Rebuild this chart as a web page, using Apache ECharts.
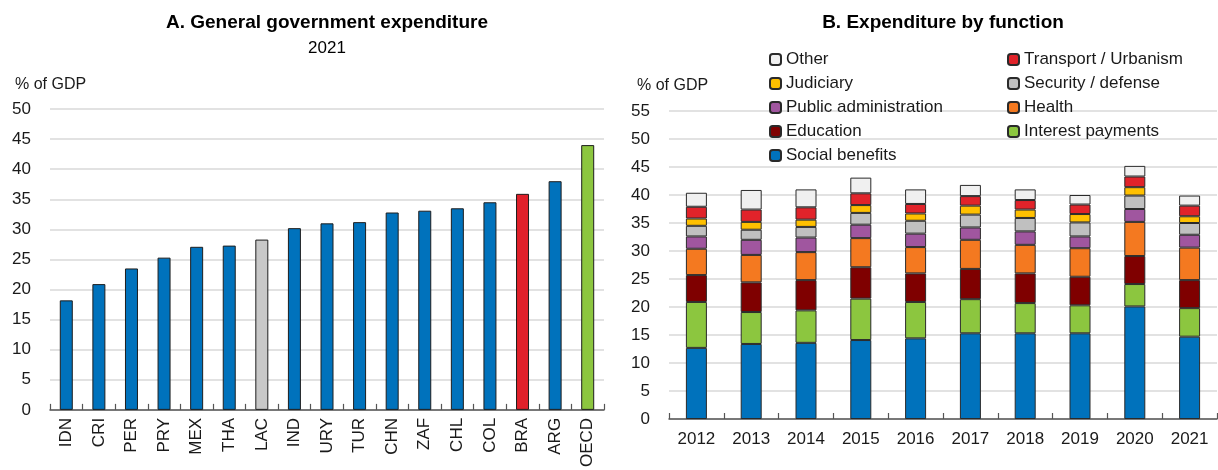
<!DOCTYPE html>
<html><head><meta charset="utf-8">
<script src="https://cdn.jsdelivr.net/npm/echarts@6/dist/echarts.min.js"></script>
<style>html,body{margin:0;padding:0;background:#fff}#c{width:1218px;height:470px}</style>
</head><body><div id="c"></div>
<script>
// Panel A data
const countries = ['IDN','CRI','PER','PRY','MEX','THA','LAC','IND','URY','TUR','CHN','ZAF','CHL','COL','BRA','ARG','OECD'];
const expenditure = [18.2,20.9,23.5,25.3,27.1,27.3,28.3,30.2,31.0,31.2,32.8,33.1,33.5,34.5,35.9,38.0,44.0];
// Panel B data
const years = ['2012','2013','2014','2015','2016','2017','2018','2019','2020','2021'];
const socialBenefits   = [12.7,13.4,13.6,14.1,14.4,15.3,15.3,15.3,20.1,14.7];
const interestPayments = [8.2,5.7,5.8,7.4,6.5,6.1,5.4,5.0,4.0,5.1];
const education        = [4.8,5.3,5.4,5.6,5.1,5.4,5.3,5.1,5.0,5.0];
const health           = [4.7,4.9,5.0,5.2,4.7,5.2,5.1,5.1,6.1,5.8];
const publicAdmin      = [2.2,2.7,2.6,2.4,2.4,2.2,2.4,2.1,2.3,2.3];
const securityDefense  = [1.9,1.8,1.9,2.1,2.3,2.3,2.4,2.5,2.4,2.1];
const judiciary        = [1.3,1.4,1.3,1.4,1.3,1.6,1.5,1.5,1.5,1.2];
const transport        = [2.1,2.2,2.2,2.1,1.7,1.7,1.7,1.7,1.9,1.9];
const other            = [2.5,3.5,3.2,2.8,2.6,2.0,1.9,1.7,1.9,1.8];
// axis ranges
const axisA = {min:0, max:50, interval:5};
const axisB = {min:0, max:55, interval:5};

const FONT = "'Liberation Sans', Arial, sans-serif";
const TXT = '#1a1a1a';
const highlight = {LAC:'#c8c8c8', BRA:'#e0202a', OECD:'#8cc63f'};
const BLUE = '#0072bc';

const stackDefs = [
  ['Social benefits', socialBenefits, '#0072bc'],
  ['Interest payments', interestPayments, '#8cc63f'],
  ['Education', education, '#7f0000'],
  ['Health', health, '#f47920'],
  ['Public administration', publicAdmin, '#a0569f'],
  ['Security / defense', securityDefense, '#c0c0c0'],
  ['Judiciary', judiciary, '#ffc000'],
  ['Transport / Urbanism', transport, '#e1232a'],
  ['Other', other, '#f0f0f0']
];

const chart = echarts.init(document.getElementById('c'), null, {renderer:'canvas'});

const gridLine = {show:true, lineStyle:{color:'#d9d9d9', width:1.5}};
const xAxisBase = {
  type:'category',
  axisLine:{lineStyle:{color:'#555', width:1.5}},
  axisTick:{show:true, inside:true, length:6, lineStyle:{color:'#555', width:1.2}},
  splitLine:{show:false}
};
const legendBase = {
  top:50, orient:'vertical', selectedMode:false, padding:0,
  itemWidth:11, itemHeight:11, itemGap:5,
  textStyle:{fontSize:17, lineHeight:19, color:TXT, fontFamily:FONT}
};

const option = {
  animation:false,
  textStyle:{fontFamily:FONT},
  grid:[
    {left:50, right:614, top:109, bottom:53},
    {left:669, right:1, top:111, bottom:51}
  ],
  xAxis:[
    Object.assign({}, xAxisBase, {gridIndex:0, data:countries,
      axisLabel:{rotate:90, margin:8, fontSize:17, color:TXT, fontFamily:FONT, interval:0}}),
    Object.assign({}, xAxisBase, {gridIndex:1, data:years,
      axisLabel:{margin:12, fontSize:17, color:TXT, fontFamily:FONT, interval:0}})
  ],
  yAxis:[
    {type:'value', gridIndex:0, min:axisA.min, max:axisA.max, interval:axisA.interval,
      axisLine:{show:false}, axisTick:{show:false}, splitLine:gridLine,
      axisLabel:{fontSize:17, color:TXT, margin:19, fontFamily:FONT}},
    {type:'value', gridIndex:1, min:axisB.min, max:axisB.max, interval:axisB.interval,
      axisLine:{show:false}, axisTick:{show:false}, splitLine:gridLine,
      axisLabel:{fontSize:17, color:TXT, margin:19, fontFamily:FONT}}
  ],
  legend:[
    Object.assign({}, legendBase, {left:769,
      data:['Other','Judiciary','Public administration','Education','Social benefits']}),
    Object.assign({}, legendBase, {left:1007,
      data:['Transport / Urbanism','Security / defense','Health','Interest payments']})
  ],
  graphic:[
    {type:'text', x:327, y:23, style:{text:'A. General government expenditure', font:"bold 19px "+FONT, fill:'#000', align:'center', verticalAlign:'middle'}},
    {type:'text', x:327, y:48, style:{text:'2021', font:"17px "+FONT, fill:'#000', align:'center', verticalAlign:'middle'}},
    {type:'text', x:15, y:85, style:{text:'% of GDP', font:"16px "+FONT, fill:TXT, align:'left', verticalAlign:'middle'}},
    {type:'text', x:943, y:23, style:{text:'B. Expenditure by function', font:"bold 19px "+FONT, fill:'#000', align:'center', verticalAlign:'middle'}},
    {type:'text', x:637, y:86, style:{text:'% of GDP', font:"16px "+FONT, fill:TXT, align:'left', verticalAlign:'middle'}}
  ],
  series:[
    {type:'bar', xAxisIndex:0, yAxisIndex:0, barWidth:13,
      data: countries.map((c,i)=>({value:expenditure[i], itemStyle:{color: highlight[c] || BLUE}})),
      itemStyle:{borderColor:'#1e1e1e', borderWidth:1}}
  ].concat(stackDefs.map(([name, arr, col]) => ({
      type:'bar', name:name, stack:'total', xAxisIndex:1, yAxisIndex:1, barWidth:21,
      data:arr, itemStyle:{color:col, borderColor:'#2a2a2a', borderWidth:1}
  })))
};
chart.setOption(option);
</script>
</body></html>
